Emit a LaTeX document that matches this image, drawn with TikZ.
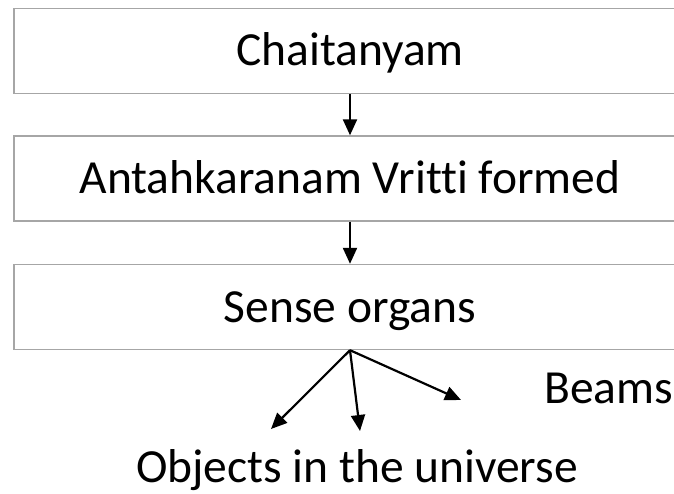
\documentclass[tikz,border=0pt]{standalone}
\usepackage{fontspec}
\setmainfont{Carlito}[Ligatures={NoCommon}]
\usetikzlibrary{arrows.meta}
\definecolor{boxgray}{HTML}{A6A6A6}
\begin{document}
\begin{tikzpicture}[x=1pt,y=-1pt,
  stage/.style={draw=boxgray, line width=1.4pt, minimum width=672pt, minimum height=85pt,
    inner sep=0pt, text height=30pt, text depth=0pt, font=\fontsize{47.5}{56}\selectfont},
  flow/.style={line width=2.2pt, -{Triangle[length=16pt,width=14pt]}},
  caption/.style={inner sep=0pt, font=\fontsize{47.5}{56}\selectfont}]
\useasboundingbox (0,0) rectangle (674,494);
\clip (0,0) rectangle (674,494);
% three stacked stages; their right edges run off the page
\node[stage] (b1) at (350,51) {Chaitanyam};
\node[stage] (b2) at (350,178.5) {Antahkaranam Vritti formed};
\node[stage] (b3) at (350,307) {Sense organs};
\draw[flow] (b1) -- (b2);
\draw[flow] (b2) -- (b3);
% beams spreading out from the sense organs
\coordinate (t1) at (271,429);
\coordinate (t2) at (360,431);
\coordinate (t3) at (461,400);
\draw[flow] (b3.south) -- (t1);
\draw[flow] (b3.south) -- (t2);
\draw[flow] (b3.south) -- (t3);
\node[caption, anchor=base west] (beams) at (544,403) {Beams};
\node[caption, anchor=base] (objects) at (357,482) {Objects in the universe};
\end{tikzpicture}
\end{document}
